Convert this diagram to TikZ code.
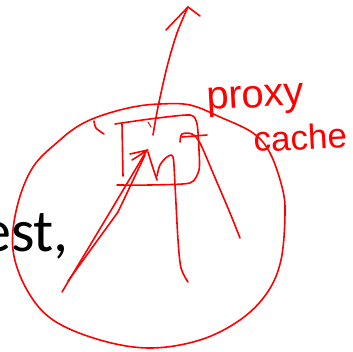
\documentclass[tikz,border=0pt]{standalone}
\usepackage{fontspec}
\setmainfont{Carlito}
\newfontfamily\handfont{Liberation Sans}
\begin{document}
\begin{tikzpicture}[x=1pt,y=-1pt,
  ink/.style={draw=red,line width=1.6pt,line cap=round,line join=round},
  handtext/.style={text=red,font=\handfont\fontsize{40}{40}\selectfont,inner sep=0pt,anchor=base west}]
\useasboundingbox (0,0) rectangle (352,352);
% black text
\node[font=\fontsize{60}{60}\selectfont,inner sep=0pt,anchor=base west] (est) at (-19,251) {est,};
% circle
\draw[ink] plot[smooth cycle,tension=0.6] coordinates {(160,104) (190,105) (220,117) (253,133) (270,153) (282,187) (285,213) (281,260) (267,293) (240,320) (200,340) (150,348) (100,340) (53,320) (27,290) (13,250) (17,207) (33,167) (60,140) (80,125) (103,115) (133,107)};
% hook
\draw[ink] plot[smooth] coordinates {(94,121) (96,128) (104,134)};
% box
\draw[ink] plot[smooth,tension=0.4] coordinates {(115,124) (150,119) (190,115) (197,124) (199,150) (199,170) (190,183) (150,185) (117,185)};
\draw[ink] (122,124) -- (123,176);
% up arrow
\draw[ink] plot[smooth] coordinates {(153,135) (158,107) (167,67) (177,33) (188,7)};
\draw[ink] (166,30) -- (188,7) -- (200,16);
% small ticks
\draw[ink,line width=1pt] (148,122) -- (151,127);
% double arrow from lower left
\draw[ink] (62,292) -- (110,212) -- (147,150);
\draw[ink] (68,281) -- (118,212) -- (145,155);
\draw[ink] (130,154) -- (148,150) -- (132,160);
% r shape
\draw[ink] plot[smooth] coordinates {(148,152) (152,165) (157,180)};
\draw[ink] plot[smooth] coordinates {(157,176) (160,165) (167,157) (173,157) (175,185) (178,240) (181,268) (188,282)};
% A shape
\draw[ink] plot[smooth] coordinates {(180,142) (182,134) (192,134) (200,143) (213,173) (230,213) (240,238)};
\draw[ink] (182,137) -- (207,135);
% label
\node[handtext,rotate=3] (proxy) at (207,110) {proxy};
\node[handtext,rotate=3,font=\handfont\fontsize{35}{35}\selectfont] (cache) at (254,152) {cache};
\end{tikzpicture}
\end{document}
